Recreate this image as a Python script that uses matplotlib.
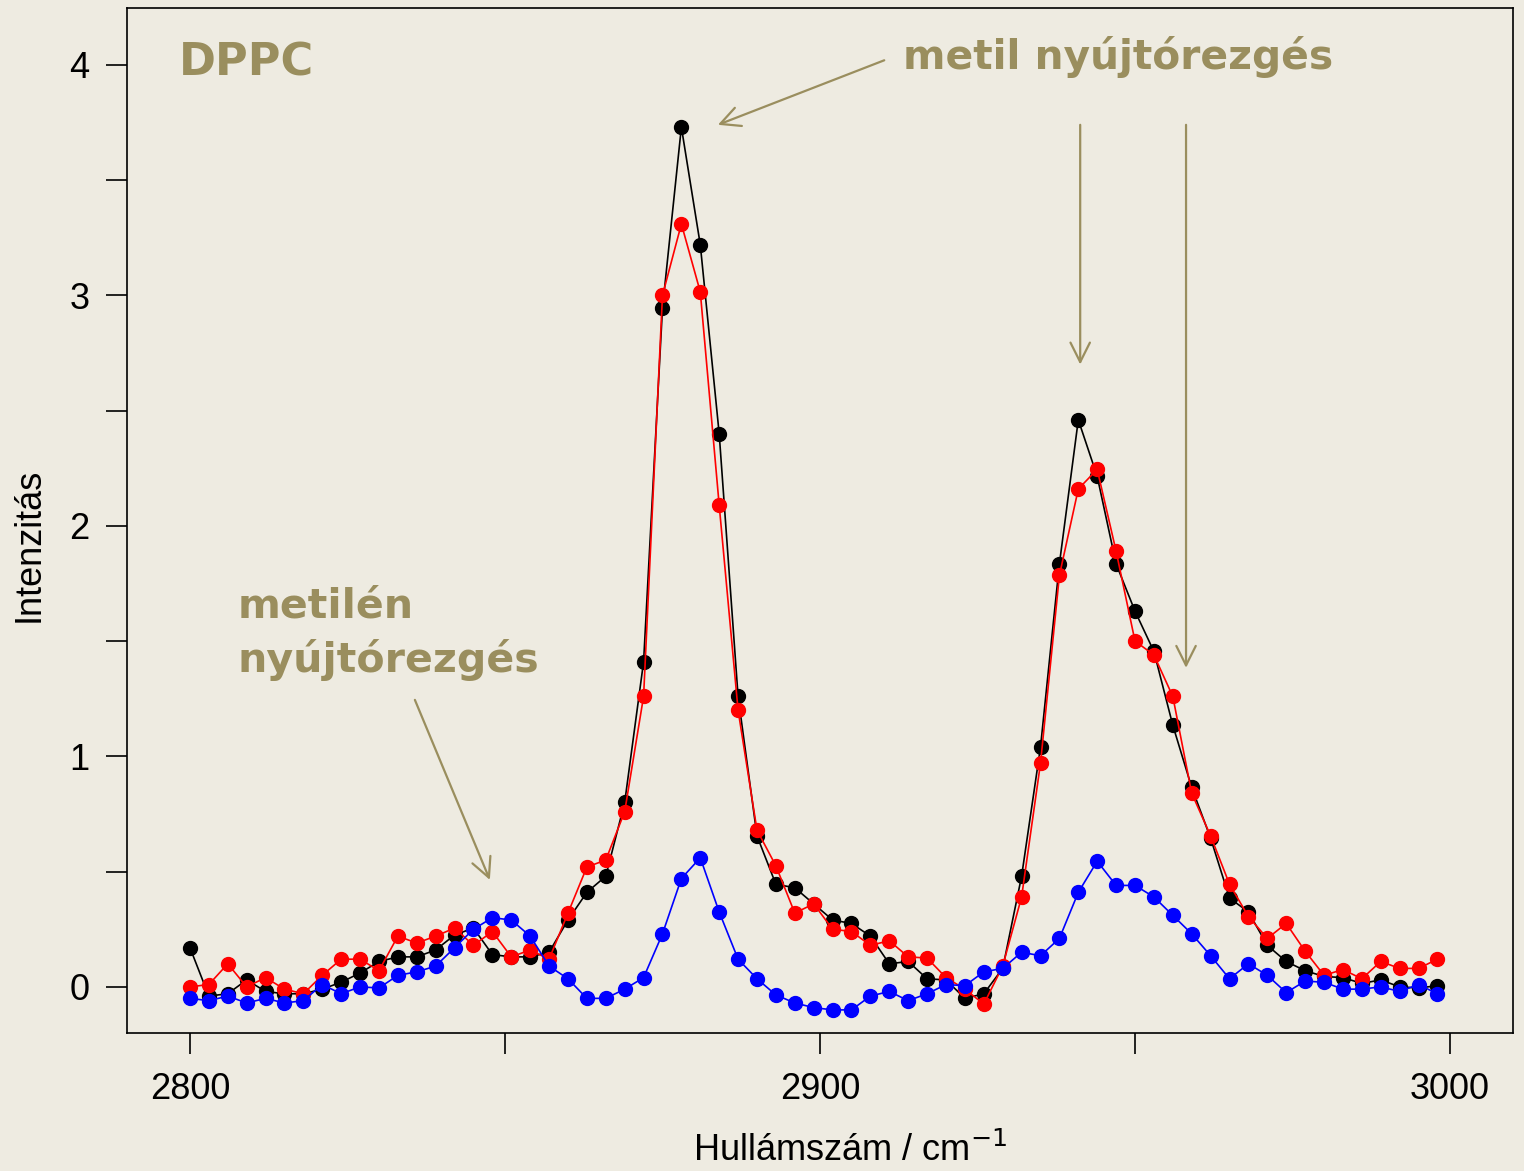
import numpy as np
import matplotlib.pyplot as plt

# wavenumber grid, 3 cm-1 steps
wavenumber = np.arange(2800, 3000, 3)

black_vals = [0.17, -0.04, -0.03, 0.03, -0.02, -0.03, -0.03, -0.01, 0.02, 0.06,
              0.11, 0.13, 0.13, 0.16, 0.225, 0.255, 0.14, 0.13, 0.13, 0.15,
              0.29, 0.41, 0.48, 0.80, 1.41, 2.945, 3.73, 3.22, 2.40, 1.26,
              0.655, 0.445, 0.43, 0.36, 0.29, 0.275, 0.22, 0.10, 0.11, 0.035,
              0.03, -0.05, -0.03, 0.08, 0.48, 1.04, 1.835, 2.46, 2.215, 1.835,
              1.63, 1.455, 1.135, 0.865, 0.645, 0.385, 0.325, 0.18, 0.11, 0.07,
              0.045, 0.04, 0.015, 0.03, 0.0, -0.005, 0.005]

red_vals = [0.0, 0.01, 0.10, 0.0, 0.04, -0.01, -0.03, 0.05, 0.12, 0.12,
            0.07, 0.22, 0.19, 0.22, 0.255, 0.18, 0.24, 0.13, 0.16, 0.12,
            0.32, 0.52, 0.55, 0.76, 1.26, 3.00, 3.31, 3.015, 2.09, 1.20,
            0.68, 0.525, 0.32, 0.36, 0.25, 0.24, 0.18, 0.20, 0.13, 0.125,
            0.04, -0.01, -0.075, 0.09, 0.39, 0.97, 1.785, 2.16, 2.245, 1.89,
            1.50, 1.44, 1.26, 0.84, 0.655, 0.445, 0.305, 0.21, 0.275, 0.155,
            0.05, 0.075, 0.035, 0.11, 0.08, 0.08, 0.12]

blue_vals = [-0.05, -0.06, -0.04, -0.07, -0.05, -0.07, -0.06, 0.01, -0.03, 0.0,
             -0.005, 0.05, 0.065, 0.09, 0.17, 0.25, 0.30, 0.29, 0.22, 0.09,
             0.035, -0.05, -0.05, -0.01, 0.04, 0.23, 0.47, 0.56, 0.325, 0.12,
             0.035, -0.035, -0.07, -0.09, -0.10, -0.10, -0.04, -0.02, -0.06, -0.03,
             0.01, 0.005, 0.065, 0.08, 0.15, 0.135, 0.21, 0.41, 0.545, 0.44,
             0.44, 0.39, 0.31, 0.23, 0.135, 0.035, 0.10, 0.05, -0.025, 0.025,
             0.02, -0.01, -0.01, 0.0, -0.02, 0.01, -0.03]

x_ticks = [2800, 2900, 3000]
y_ticks = [0, 1, 2, 3, 4]

bg = '#EEEBE1'
olive = '#9A8E5E'

plt.rcParams['font.family'] = ['Liberation Sans', 'DejaVu Sans']

fig = plt.figure(figsize=(15.24, 11.71), dpi=100, facecolor=bg)
ax = fig.add_axes([0.0833, 0.1179, 0.9095, 0.8753], facecolor=bg)

for vals, col in [(black_vals, 'black'), (red_vals, 'red'), (blue_vals, 'blue')]:
    ax.plot(wavenumber, vals, '-o', color=col, lw=1.2, ms=10, mec=col)

ax.set_xlim(2790, 3010)
ax.set_ylim(-0.2, 4.247)
ax.set_xticks(x_ticks)
ax.set_xticks([2850, 2950], minor=True)
ax.set_yticks(y_ticks)
ax.set_yticks([0.5, 1.5, 2.5, 3.5], minor=True)
ax.tick_params(which='both', direction='out', width=1.2, labelsize=26)
ax.tick_params(which='both', length=15)
ax.tick_params(axis='x', which='major', pad=13)
ax.tick_params(axis='y', which='major', pad=12)
for s in ax.spines.values():
    s.set_linewidth(1.2)

ax.set_xlabel('Hullámszám / cm$^{-1}$', fontsize=26)
ax.xaxis.set_label_coords(0.522, -0.097)
ax.set_ylabel('Intenzitás', fontsize=26)
ax.yaxis.set_label_coords(-0.058, 0.476)

# annotations
ax.text(2798.2, 4.01, 'DPPC', fontsize=32, fontweight='bold', color=olive,
        family='DejaVu Sans', va='center', ha='left')
ax.text(2913.2, 4.035, 'metil nyújtórezgés', fontsize=29.3, fontweight='bold',
        color=olive, family='DejaVu Sans', va='center', ha='left')
ax.text(2807.6, 1.735, 'metilén\nnyújtórezgés', fontsize=29.6, fontweight='bold',
        color=olive, family='DejaVu Sans', va='top', ha='left', linespacing=1.37)

arrow = dict(arrowstyle='->', color=olive, lw=1.6, mutation_scale=35,
             shrinkA=0, shrinkB=0)
ax.annotate('', xy=(2883.8, 3.74), xytext=(2910.2, 4.02), arrowprops=arrow)
ax.annotate('', xy=(2941.3, 2.70), xytext=(2941.3, 3.74), arrowprops=arrow)
ax.annotate('', xy=(2958.1, 1.384), xytext=(2958.1, 3.74), arrowprops=arrow)
ax.annotate('', xy=(2847.6, 0.464), xytext=(2835.7, 1.245), arrowprops=arrow)

fig.savefig('out.png', dpi=100, facecolor=bg)
